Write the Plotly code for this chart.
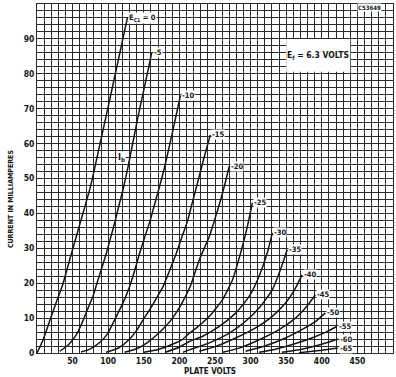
import plotly.graph_objects as go

# ---- data (plate volts, plate current mA) ----
grid_bias = [0, -5, -10, -15, -20, -25, -30, -35, -40, -45, -50, -55, -60, -65]

ec0_v = [0, 8, 18.5, 27, 36, 47, 61, 75, 88, 101, 114, 127]
ec0_i = [0, 3.5, 9.6, 14.5, 19.5, 27.5, 37.5, 47.6, 59.5, 71.5, 83.8, 96]

ec5_v = [32, 45, 56, 64, 72, 79, 85, 92, 98, 104, 110, 116, 121, 128, 142, 157, 161]
ec5_i = [0.5, 2.5, 5.5, 9, 13, 16.5, 20.5, 25, 29, 33.5, 38, 43, 47, 53.5, 67.8, 82, 86]

ec10_v = [62, 75, 88, 99, 109, 120, 130, 137, 144, 151, 159, 165, 172, 179.5, 190, 201.5]
ec10_i = [0.3, 1.2, 3, 5.5, 9.5, 14, 19, 23.5, 28.5, 33, 38, 42.5, 47.6, 53.5, 63, 73.8]

ec15_v = [97, 115, 130, 140, 149, 160, 170, 177, 186, 195.5, 204, 211.7, 218, 224, 234, 243.4]
ec15_i = [0.2, 1.5, 4, 6.5, 9.5, 13, 16.5, 19, 23.5, 28.5, 33.5, 38, 43, 47.6, 55.5, 62.5]

ec20_v = [123, 140, 155, 170, 180, 188.5, 200, 208, 216, 228, 242, 250, 258, 264, 270]
ec20_i = [0.2, 1.2, 3, 5.5, 7.5, 9.5, 13, 16, 19.5, 26.7, 33.4, 38.5, 43.9, 48.5, 53.5]

ec25_v = [150, 170, 190, 205, 214, 224, 242, 260.6, 274.6, 286, 295.5, 302.5]
ec25_i = [0.2, 1, 2.5, 4, 5.7, 7.2, 10.5, 15.3, 21, 28.7, 36.3, 43]

ec30_v = [180, 198, 214, 232.7, 256, 279.3, 298, 311.9, 323.5, 330.5]
ec30_i = [0.2, 1.5, 3.3, 4.8, 7.6, 11.5, 16.2, 22, 28.7, 34.4]

ec35_v = [205, 214, 242, 270, 293, 314, 330.5, 342, 351.4]
ec35_i = [0.2, 0.9, 2.9, 5.7, 9.1, 13.4, 18.1, 23.9, 29.6]

ec40_v = [228, 251, 279, 307, 330.5, 349, 363, 372.3]
ec40_i = [0.5, 1.9, 4.3, 7.2, 10.5, 14.3, 18.6, 22.4]

ec45_v = [260.6, 284, 312, 340, 363, 379, 391]
ec45_i = [0.2, 1.4, 3.8, 6.7, 10, 13.4, 16.7]

ec50_v = [293, 321, 349, 372, 391, 405]
ec50_i = [0.5, 2.1, 4.3, 6.7, 9, 11.5]

ec55_v = [312, 335, 363, 386, 405, 421]
ec55_i = [0.2, 1.1, 2.7, 4.3, 5.9, 7.6]

ec60_v = [344, 372, 400, 422.6]
ec60_i = [0.2, 1.1, 2.5, 4.0]

ec65_v = [368, 400, 422.6]
ec65_i = [0.1, 0.8, 1.4]

curve_labels = ["E<sub>C1</sub> = 0", "-5", "-10", "-15", "-20", "-25", "-30",
                "-35", "-40", "-45", "-50", "-55", "-60", "-65"]

x_tick_vals = [50, 100, 150, 200, 250, 300, 350, 400, 450]
y_tick_vals = [0, 10, 20, 30, 40, 50, 60, 70, 80, 90]

curves_v = [ec0_v, ec5_v, ec10_v, ec15_v, ec20_v, ec25_v, ec30_v,
            ec35_v, ec40_v, ec45_v, ec50_v, ec55_v, ec60_v, ec65_v]
curves_i = [ec0_i, ec5_i, ec10_i, ec15_i, ec20_i, ec25_i, ec30_i,
            ec35_i, ec40_i, ec45_i, ec50_i, ec55_i, ec60_i, ec65_i]

FONT = "DejaVu Sans Condensed, Liberation Sans Narrow, Liberation Sans, Arial"
INK = "#151515"
GRID = "#2a2a2a"

fig = go.Figure()
for bias, vs, cs in zip(grid_bias, curves_v, curves_i):
    fig.add_trace(go.Scatter(
        x=vs, y=cs, mode="lines", name=str(bias),
        line=dict(color=INK, width=1.5, shape="spline", smoothing=0.5),
        showlegend=False, hoverinfo="skip"))

annotations = []
for lab, vs, cs in zip(curve_labels, curves_v, curves_i):
    annotations.append(dict(
        x=vs[-1], y=cs[-1], xref="x", yref="y", text=lab, showarrow=False,
        xanchor="left", yanchor="middle", xshift=1,
        font=dict(family=FONT, size=7.5, color=INK, weight="bold"),
        bgcolor="white", borderpad=0))

annotations += [
    dict(x=118, y=56, xref="x", yref="y", text="I<sub>b</sub>", showarrow=False,
         font=dict(family=FONT, size=9, color=INK, weight="bold"),
         bgcolor="white", borderpad=0),
    dict(x=395, y=85.3, xref="x", yref="y", text="E<sub>f</sub> = 6.3 VOLTS",
         showarrow=False,
         font=dict(family=FONT, size=8.5, color=INK, weight="bold")),
    dict(x=467, y=99, xref="x", yref="y", text="C53649", showarrow=False,
         font=dict(family=FONT, size=6, color=INK, weight="bold"),
         bgcolor="white", borderpad=0),
    dict(x=-0.088, y=0.44, xref="paper", yref="paper",
         text="CURRENT IN MILLIAMPERES", showarrow=False, textangle=-90,
         font=dict(family=FONT, size=7, color=INK, weight="bold")),
    dict(x=0.487, y=-0.054, xref="paper", yref="paper", text="PLATE VOLTS",
         showarrow=False, yanchor="middle",
         font=dict(family=FONT, size=8, color=INK, weight="bold")),
]

axis_common = dict(
    showgrid=True, gridcolor=GRID, gridwidth=1,
    showline=True, linecolor=GRID, linewidth=1, mirror=True,
    ticks="", zeroline=False, automargin=False,
    tickfont=dict(family=FONT, size=8.5, color=INK, weight="bold"))

fig.update_layout(
    width=396, height=377,
    margin=dict(l=37, r=3, t=4, b=24, autoexpand=False),
    paper_bgcolor="white", plot_bgcolor="white",
    annotations=annotations,
    shapes=[dict(type="rect", xref="x", yref="y", x0=350, x1=440, y0=80.6, y1=90,
                 fillcolor="white", line=dict(width=0), layer="above")],
    xaxis=dict(range=[0, 500], tickvals=x_tick_vals,
               ticktext=[str(v) for v in x_tick_vals],
               minor=dict(dtick=10, tick0=0, showgrid=True,
                          gridcolor=GRID, gridwidth=1),
               **axis_common),
    yaxis=dict(range=[0, 100], tickvals=y_tick_vals,
               ticktext=[str(v) for v in y_tick_vals],
               minor=dict(dtick=2, tick0=0, showgrid=True,
                          gridcolor=GRID, gridwidth=1),
               **axis_common),
)

fig.write_html("out.html",
               config={"displayModeBar": False, "staticPlot": True},
               post_script="document.body.style.margin='0px';"
                           "document.body.style.overflow='hidden';")
